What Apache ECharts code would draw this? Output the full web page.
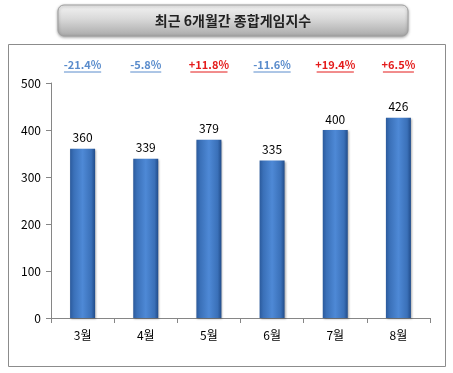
<!DOCTYPE html>
<html><head><meta charset="utf-8">
<script src="https://cdn.jsdelivr.net/npm/echarts@6/dist/echarts.min.js"></script>
<style>html,body{margin:0;padding:0;background:#fff}#c{width:453px;height:373px}</style>
</head><body><div id="c"></div>
<script>
const titleText = '최근 6개월간 종합게임지수';
const categories = ['3월','4월','5월','6월','7월','8월'];
const values = [360, 339, 379, 335, 400, 426];
const changes = [-21.4, -5.8, 11.8, -11.6, 19.4, 6.5];
const yTicks = [0, 100, 200, 300, 400, 500];

const FONT = '"Noto Sans CJK KR", "Noto Sans", sans-serif';
const chart = echarts.init(document.getElementById('c'), null, {renderer:'canvas'});
const barGrad = new echarts.graphic.LinearGradient(0,0,1,0,[
  {offset:0, color:'#2b5a9c'},
  {offset:0.15, color:'#3a70b8'},
  {offset:0.5, color:'#4e89d6'},
  {offset:0.85, color:'#3a70b8'},
  {offset:1, color:'#214c8a'}
]);
chart.setOption({
  animation:false,
  backgroundColor:'#fff',
  graphic:[
    {type:'rect', shape:{x:8.5,y:44.5,width:437,height:322}, style:{fill:'none', stroke:'#8c8c8c', lineWidth:1}, z:0},
    {type:'rect', shape:{x:58,y:5,width:350,height:31,r:6},
      style:{fill:new echarts.graphic.LinearGradient(0,0,0,1,[
        {offset:0,color:'#f4f4f4'},{offset:0.45,color:'#d9d9d9'},{offset:1,color:'#a9a9a9'}]),
        stroke:'#a0a0a0', lineWidth:1, shadowBlur:3, shadowColor:'rgba(0,0,0,0.35)', shadowOffsetY:1}, z:1},
    {type:'text', x:233, y:21, style:{text:titleText, font:'bold 14px '+FONT, fill:'#222', align:'center', verticalAlign:'middle'}, z:2}
  ],
  grid:{left:51, right:23, top:83, bottom:55},
  xAxis:{type:'category', data:categories,
    axisLine:{lineStyle:{color:'#868686'}},
    axisTick:{show:true, length:5, lineStyle:{color:'#868686'}},
    axisLabel:{color:'#000', fontSize:12, fontFamily:FONT, margin:11}},
  yAxis:{type:'value', min:0, max:500, interval:100,
    axisLine:{show:true, lineStyle:{color:'#868686'}},
    axisTick:{show:true, length:5, lineStyle:{color:'#868686'}},
    splitLine:{show:false},
    axisLabel:{color:'#000', fontSize:12, fontFamily:FONT, margin:10,
      formatter:v=>yTicks.includes(v)?String(v):''}},
  series:[
    {type:'bar', data:values, barWidth:25,
      itemStyle:{color:barGrad, shadowBlur:2, shadowColor:'rgba(0,0,0,0.3)', shadowOffsetX:1, shadowOffsetY:1},
      label:{show:true, position:'top', distance:5, color:'#000', fontSize:12, fontFamily:FONT}},
    {type:'custom', data:changes.map((c,i)=>[i,c]), clip:false, silent:true,
      renderItem:function(params, api){
        const i = api.value(0), c = api.value(1);
        const x = api.coord([i, 0])[0];
        const yTop = api.coord([i, 500])[1];
        const txt = (c>0?'+':'') + c.toFixed(1) + '%';
        const col = c>0 ? '#e41b1b' : '#5a8ccc';
        const w = txt.length*6.2;
        const y = yTop - 18;
        return {type:'group', children:[
          {type:'text', x:x, y:y, style:{text:txt, font:'bold 11px '+FONT, fill:col, align:'center', verticalAlign:'middle'}},
          {type:'line', shape:{x1:x-w/2, y1:y+7, x2:x+w/2, y2:y+7}, style:{stroke:col, lineWidth:1}}
        ]};
      }}
  ]
});
</script></body></html>
